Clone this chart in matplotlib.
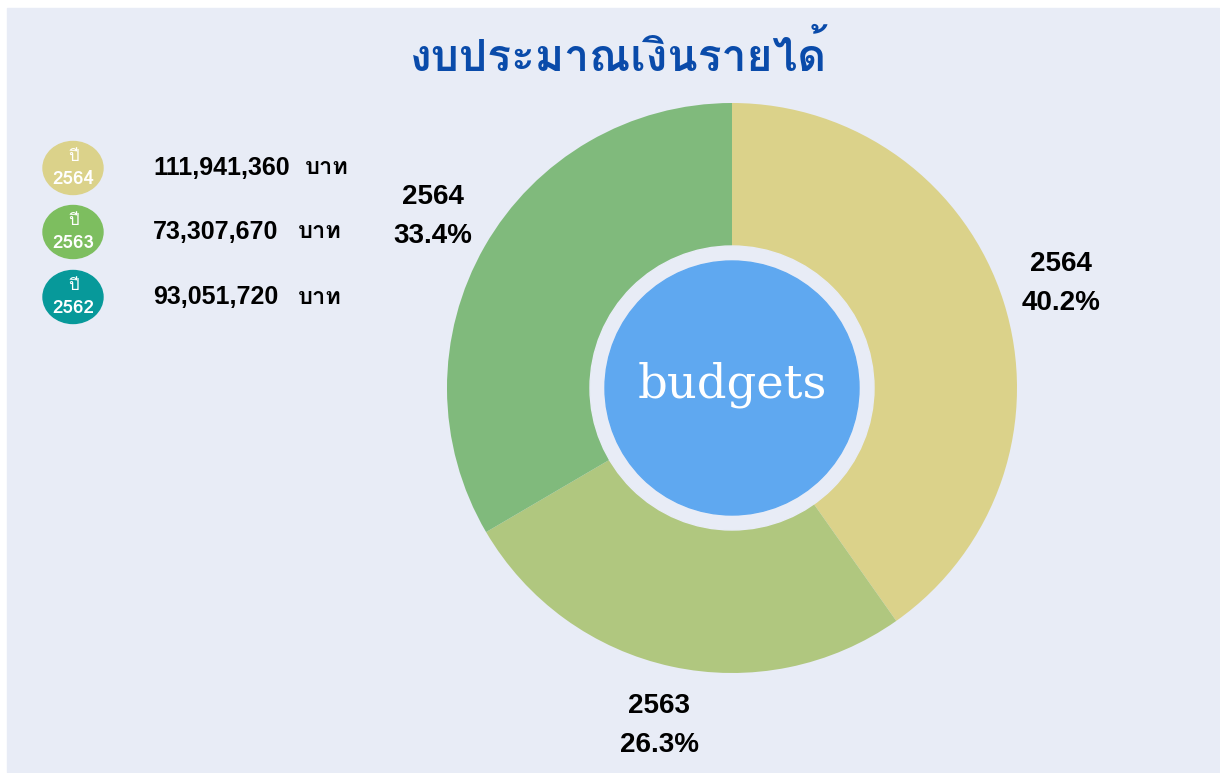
import matplotlib
matplotlib.use("Agg")
import matplotlib.pyplot as plt
from matplotlib import font_manager
from matplotlib.ft2font import FT2Font
from matplotlib.patches import Circle, Ellipse, Rectangle

# --- data ---
years = ["2564", "2563", "2562"]
amounts = [111941360, 73307670, 93051720]
pie_labels = ["2564", "2563", "2564"]  # labels as printed on the original chart
slice_colors = ["#DBD28A", "#B0C77F", "#80BA7C"]
legend_colors = ["#DBD28A", "#7DBE5F", "#07999A"]
title = "งบประมาณเงินรายได้"
center_text = "budgets"
unit = "บาท"

BG = "#E8ECF6"


# find an installed font that actually has Thai glyphs
def find_thai_font():
    best = None
    for f in font_manager.fontManager.ttflist:
        try:
            cmap = FT2Font(f.fname).get_charmap()
        except Exception:
            continue
        if 0x0E07 in cmap and 0x0E1A in cmap:
            if best is None or (f.weight in ("bold", 700) and best.weight not in ("bold", 700)):
                best = f
    return best.name if best else "DejaVu Sans"


thai = find_thai_font()
latin = "Liberation Sans"

W, H = 1220, 773
fig = plt.figure(figsize=(W / 100, H / 100), dpi=100)
ax = fig.add_axes([0, 0, 1, 1])


def py(y):
    # pixel row -> data y
    return H - y


ax.add_patch(Rectangle((7, py(772)), 1212, 764, color=BG, zorder=0))

# donut
cx, cy, r = 732, py(388), 285
total = sum(amounts)
texts = [f"{lab}\n{v / total * 100:.1f}%" for lab, v in zip(pie_labels, amounts)]
ax.pie(amounts, colors=slice_colors, startangle=90, counterclock=False,
       center=(cx, cy), radius=r, labels=texts, labeldistance=1.21,
       wedgeprops=dict(linewidth=0),
       textprops=dict(ha="center", va="center", fontsize=20, fontweight="bold",
                      family=latin, linespacing=1.65, color="black"))
ax.add_patch(Circle((cx, cy), 142, color=BG, zorder=3))
ax.add_patch(Circle((cx, cy), 127, color="#5FA8F0", zorder=4))
ax.text(cx, cy + 3, center_text, ha="center", va="center", color="white",
        fontsize=33.5, family="DejaVu Serif", zorder=5)

# title
ax.text(618, py(55), title, ha="center", va="center", color="#0A4BAA",
        fontsize=32, fontweight="bold", family=[thai, "DejaVu Sans"])

# legend
rows = [168, 232, 297]
unit_x = [305, 298, 298]
for yr, amt, col, yy, ux in zip(years, amounts, legend_colors, rows, unit_x):
    ax.add_patch(Ellipse((73, py(yy)), 60, 53, color=col, zorder=3))
    ax.text(73, py(yy - 11), "ปี", ha="center", va="center", color="white",
            fontsize=12, family=[thai, "DejaVu Sans"], zorder=4)
    ax.text(73, py(yy + 11), yr, ha="center", va="center", color="white",
            fontsize=13.5, fontweight="bold", family=[thai, "DejaVu Sans"], zorder=4)
    ax.text(153, py(yy), f"{amt:,}", ha="left", va="center", color="black",
            fontsize=18, fontweight="bold", family=latin)
    ax.text(ux, py(yy), unit, ha="left", va="center", color="black",
            fontsize=17, fontweight="bold", family=[thai, "DejaVu Sans"])

ax.set_xlim(0, W)
ax.set_ylim(0, H)
ax.set_aspect("equal")
ax.axis("off")

fig.savefig("out.png", dpi=100, facecolor="white")
